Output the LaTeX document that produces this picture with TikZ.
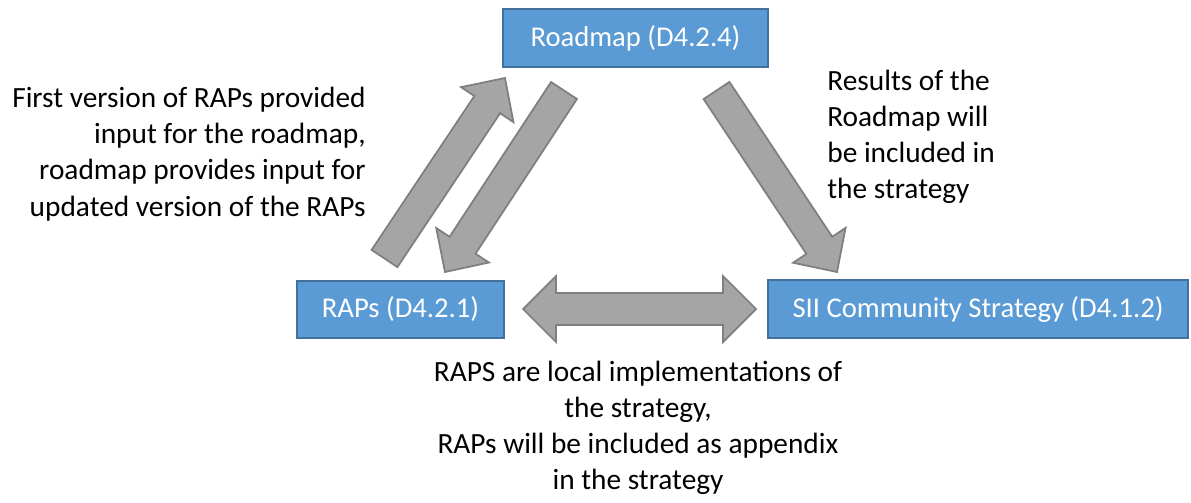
\documentclass[tikz,border=0pt]{standalone}
\usepackage{fontspec}
\setmainfont{Carlito}
\usetikzlibrary{calc}

\definecolor{boxblue}{HTML}{5B9BD5}
\definecolor{boxline}{HTML}{41719C}
\definecolor{arrgray}{HTML}{A5A5A5}
\definecolor{arrline}{HTML}{7F7F7F}

\tikzset{
  deliverable/.style={draw=boxline, line width=1.2pt, fill=boxblue, text=white,
    inner sep=0pt, font=\fontsize{16.3}{20.4}\selectfont},
  note/.style={inner sep=0pt, font=\fontsize{16.7}{20.6}\selectfont},
  blockarrow/.style={draw=arrline, fill=arrgray, line width=1pt, line join=miter}
}

% block arrow from #1 to #2
\newcommand{\blockarrow}[2]{%
  \coordinate (hb) at ($(#2)!0.64cm!(#1)$);
  \draw[blockarrow] ($(#1)!0.31cm!90:(#2)$) -- ($(hb)!0.31cm!-90:(#1)$)
    -- ($(hb)!0.63cm!-90:(#1)$) -- (#2) -- ($(hb)!0.63cm!90:(#1)$)
    -- ($(hb)!0.31cm!90:(#1)$) -- ($(#1)!0.31cm!-90:(#2)$) -- cycle;
}
% block arrow with two heads
\newcommand{\doublearrow}[2]{%
  \coordinate (ha) at ($(#1)!0.66cm!(#2)$);
  \coordinate (hb) at ($(#2)!0.66cm!(#1)$);
  \draw[blockarrow] (#1) -- ($(ha)!0.66cm!90:(#2)$) -- ($(ha)!0.32cm!90:(#2)$)
    -- ($(hb)!0.32cm!-90:(#1)$) -- ($(hb)!0.66cm!-90:(#1)$) -- (#2)
    -- ($(hb)!0.66cm!90:(#1)$) -- ($(hb)!0.32cm!90:(#1)$)
    -- ($(ha)!0.32cm!-90:(#2)$) -- ($(ha)!0.66cm!-90:(#2)$) -- cycle;
}

\begin{document}
\begin{tikzpicture}
  \useasboundingbox (0,0) rectangle (23.82,-10.04);

  \node[deliverable, minimum width=5.3cm, minimum height=1.16cm] (roadmap) at (12.71,-0.76) {Roadmap (D4.2.4)};
  \node[deliverable, minimum width=4.14cm, minimum height=1.14cm] (raps) at (8.01,-6.19) {RAPs (D4.2.1)};
  \node[deliverable, minimum width=8.4cm, minimum height=1.16cm] (strategy) at (19.56,-6.18) {SII Community Strategy (D4.1.2)};

  \node[note, align=right, anchor=east] (leftnote) at (7.32,-3.08)
    {First version of RAPs provided\\input for the roadmap,\\roadmap provides input for\\updated version of the RAPs};
  \node[note, align=left, anchor=west] (rightnote) at (16.54,-2.74)
    {Results of the\\Roadmap will\\be included in\\the strategy};
  \node[note, align=center] (bottomnote) at (12.76,-8.56)
    {RAPS are local implementations of\\the strategy,\\RAPs will be included as appendix\\in the strategy};

  \coordinate (upfrom) at (7.69,-5.17);
  \coordinate (upto) at (10.10,-1.56);
  \coordinate (downfrom) at (11.28,-1.81);
  \coordinate (downto) at (8.90,-5.44);
  \coordinate (rightfrom) at (14.33,-1.81);
  \coordinate (rightto) at (16.74,-5.44);
  \coordinate (bothleft) at (10.46,-6.18);
  \coordinate (bothright) at (15.12,-6.18);

  \blockarrow{upfrom}{upto}
  \blockarrow{downfrom}{downto}
  \blockarrow{rightfrom}{rightto}
  \doublearrow{bothleft}{bothright}
\end{tikzpicture}
\end{document}
